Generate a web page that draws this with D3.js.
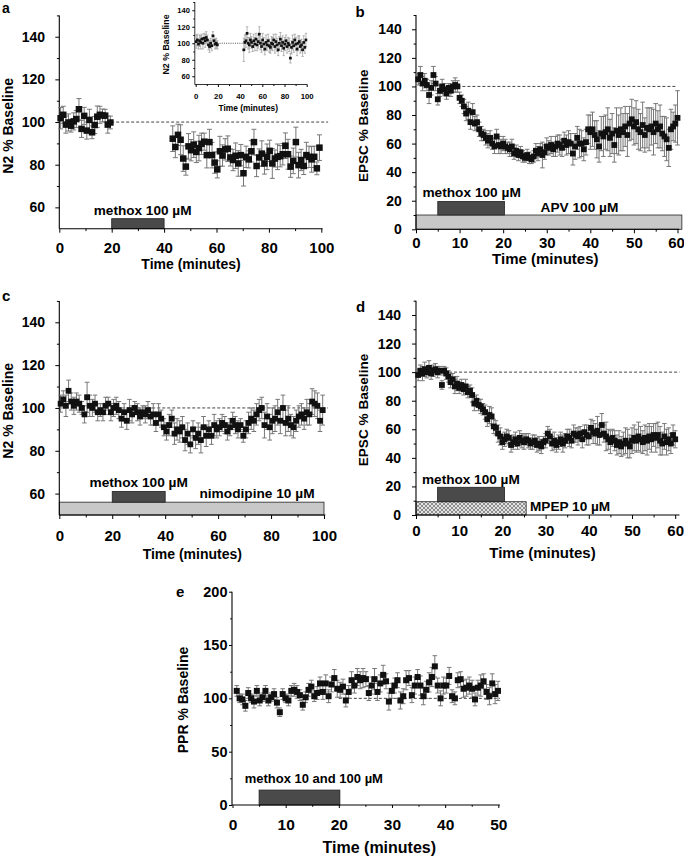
<!DOCTYPE html>
<html>
<head>
<meta charset="utf-8">
<script src="https://cdn.jsdelivr.net/npm/d3@7"></script>
<style>
  body { margin: 0; background: #fff; }
  svg { font-family: "Liberation Sans", Arial, sans-serif; font-weight: bold; }
</style>
</head>
<body>
<svg id="fig" width="684" height="856"></svg>
<script>
// ---------- data ----------

// panel a: N2 % baseline, two recording segments, 1 min sampling
const aSeg1Start = 0.5, aSeg2Start = 43.3, aStep = 1.0;
const aSeg1 = [101.8,103.4,98.8,99.8,98.3,100.3,101.4,106,96.8,102.9,96,101,95.2,98.6,102.5,103.4,103.1,103,98.8,99.8];
const aSeg1Err = [5,4,4,4,3,4,4,5,4,4,4,5,3,4,5,4,3,3,4,3];
const aSeg2 = [92.2,88.3,94,91.7,82.9,79.1,88.6,86.8,89.4,86,87.8,89.8,90.8,84.5,90.6,84.5,81,77.8,86.3,84.3,
  87.2,87.5,83.4,82.2,84.2,80.6,84.5,76,83.7,82.5,86.3,90.6,79.4,83.4,85.2,80.6,83.7,86.5,80.6,82.9,
  83.7,84,84.9,88.9,84.9,79.1,81.8,90.6,79.8,82.2,79.4,84.5,83.7,82.5,83.7,78.3,88];
const aSeg2Err = [6,5,5,7,6,4,6,5,6,5,6,5,4,6,6,6,5,4,7,5,5,6,4,5,6,6,5,6,5,4,5,6,5,4,6,5,6,5,7,4,
  6,5,5,6,7,5,6,7,6,5,4,6,5,6,5,3,6];

// panel a inset: control recording
const insSeg1 = [102,104,99,103,101,105,100,106,103,107,104,98,96,100,97,109,103,99,100,98];
const insSeg1Err = [8,7,6,7,8,6,7,6,8,7,6,6,7,6,6,5,6,6,6,5];
const insSeg2 = [92,101,103,112,100,98,104,101,96,103,99,105,98,102,111,100,96,104,99,93,
  101,98,103,97,95,100,99,104,96,102,98,92,100,105,97,101,94,99,103,96,
  100,98,82,95,101,97,104,99,93,100,102,96,98,92,101,95,104];
const insSeg2Err = [14,9,8,8,7,9,8,7,6,8,8,7,7,8,9,8,7,8,8,7,9,7,8,8,7,8,8,7,8,9,
  8,7,8,8,7,8,9,8,7,8,7,8,6,8,9,8,7,8,8,9,7,8,7,8,8,7,8];

// panel b: EPSC % baseline with APV, 0.5 min sampling
const bStart = 0.5, bStep = 0.5;
const bVals = [105,108,102,104,101,94,99,108,102,91,97,100,98,95,99,97,100,101,100,92,
  90,86,81,83,75,82,74,75,70,67,66,64,62,64,60,58,65,59,58,60,
  58,57,56,58,53,55,52,54,51,50,52,50,49,51,55,53,56,52,54,58,
  57,59,56,58,60,59,57,62,59,61,60,53,58,64,60,60,56,61,70,68,
  70,66,63,58,67,65,68,70,64,67,59,69,66,70,68,72,66,74,77,72,
  75,70,68,73,66,71,70,72,68,74,70,72,67,65,63,57,70,72,74,78];
const bErr = [4,6,5,5,4,6,5,6,5,4,4,5,4,4,3,4,4,5,4,4,
  4,5,5,6,5,6,5,5,5,5,4,5,5,5,4,5,5,6,5,5,
  5,4,5,5,4,4,4,4,4,3,4,4,3,4,5,5,4,9,5,6,
  5,6,5,7,6,7,6,6,7,8,7,8,9,8,10,9,8,9,10,12,
  12,10,13,11,12,14,12,15,13,14,12,16,14,15,13,14,15,12,14,13,
  15,14,13,16,12,14,15,13,16,14,13,15,12,14,15,13,14,10,13,19];

// panel c: N2 % baseline with nimodipine, 1 min sampling
const cStart = 0.5, cStep = 1.0;
const cVals = [102,104,101,108,103,101,103,102,100,97,
  105,101,100,102,98,99,98,101,102,98,
  100,101,99,95,98,94,99,97,100,98,
  96,98,97,99,96,97,93,97,95,91,
  89,92,95,88,90,89,91,85,88,83,
  90,86,88,85,91,87,90,87,92,90,
  91,93,92,89,91,94,92,90,92,87,
  90,93,95,94,97,99,100,92,96,91,
  94,95,98,94,100,93,95,92,91,94,
  96,97,95,98,97,103,102,101,94,99];
const cErr = [4,4,5,5,4,4,4,4,3,4,7,5,4,4,4,3,4,4,3,4,4,4,4,4,4,4,5,4,3,4,
  4,3,4,4,4,5,4,5,4,4,4,5,4,5,5,5,5,5,5,4,4,5,5,6,5,5,4,4,5,4,
  4,4,4,4,4,4,4,4,3,3,4,5,5,5,5,5,5,6,6,6,6,6,6,6,6,6,6,5,5,5,
  5,5,5,6,5,6,6,6,5,7];

// panel d: EPSC % baseline with MPEP, 0.5 min sampling
const dStart = 0.5, dStep = 0.5;
const dVals = [98,101,99,102,100,103,99,101,102,100,101,91,101,99,97,93,95,90,92,89,
  91,88,90,86,87,84,78,80,77,76,74,72,67,70,69,62,61,57,55,51,
  53,55,54,49,51,53,50,54,52,51,53,52,50,51,52,49,50,48,51,52,
  57,55,50,52,49,51,53,50,52,55,54,52,57,56,55,57,53,58,56,55,
  61,58,57,59,56,63,57,55,53,51,54,52,49,51,48,50,52,50,48,52,
  54,52,55,53,51,54,52,55,53,56,54,56,52,50,55,51,53,50,56,53];
const dErr = [4,4,5,5,4,5,4,4,4,4,3,3,3,4,4,4,4,5,5,4,
  4,4,5,4,4,5,5,4,4,5,4,5,5,6,6,5,5,6,6,5,
  5,5,5,5,5,5,4,5,5,5,4,5,4,5,4,5,5,5,4,5,
  5,5,5,6,5,5,5,6,5,5,6,5,6,5,6,5,6,5,7,6,
  6,8,7,10,7,8,6,10,7,8,6,7,7,8,7,8,9,10,8,9,
  9,8,10,9,8,9,10,9,9,8,10,9,10,8,9,9,8,7,7,6];

// panel e: PPR % baseline
const eStart = 0.8, eStep = 0.54;
const eVals = [107,100,99,93,105,100,97,107,98,101,107,98,101,104,96,87,104,100,98,107,
  108,106,103,94,101,108,111,102,105,114,106,114,102,113,119,109,108,111,98,106,
  117,112,120,117,119,118,105,112,118,106,114,122,116,97,107,112,117,98,102,117,
  119,103,112,120,112,102,108,115,120,130,112,100,112,112,121,102,100,117,118,109,
  110,112,109,99,110,112,116,106,102,114,104,107];
const eErr = [5,4,5,5,5,4,6,5,5,4,5,5,4,5,5,4,5,4,5,5,6,6,5,5,5,6,6,5,6,6,
  7,8,6,7,8,8,7,7,6,6,8,7,8,8,9,7,7,8,10,8,8,9,7,8,7,7,7,8,7,9,
  7,7,8,7,9,8,8,9,9,10,7,7,8,7,8,6,6,7,7,8,8,8,8,6,7,10,7,7,8,9,9,9];

// drug application bars: minutes and % levels
const aBars = [{ kind: 'methox', from: 20, to: 40, lo: 50, hi: 54.7 }];
const bBars = [{ kind: 'bath', from: 0, to: 61, lo: 0, hi: 10 },
               { kind: 'methox', from: 5, to: 20.3, lo: 10, hi: 19.5 }];
const cBars = [{ kind: 'bath', from: 0, to: 100, lo: 50, hi: 56 },
               { kind: 'methox', from: 20, to: 40, lo: 56, hi: 61 }];
const dBars = [{ kind: 'hatch', from: 0, to: 25.5, lo: 0, hi: 9.3 },
               { kind: 'methox', from: 5, to: 20.5, lo: 9.3, hi: 19.4 }];
const eBars = [{ kind: 'methox', from: 5, to: 20.2, lo: 0, hi: 14 }];

// ---------- drawing ----------
const svg = d3.select('#fig');
const defs = svg.append('defs');
const pat = defs.append('pattern').attr('id', 'xhatch')
  .attr('width', 4).attr('height', 4).attr('patternUnits', 'userSpaceOnUse');
pat.append('rect').attr('width', 4).attr('height', 4).attr('fill', '#e2e2e2');
pat.append('path').attr('d', 'M0,0L4,4M4,0L0,4M-1,3L1,5M3,-1L5,1')
  .attr('stroke', '#555').attr('stroke-width', 0.6);

const barFill = { methox: '#4a4a4a', bath: '#c8c8c8', hatch: 'url(#xhatch)' };

function seg(t0, dt, vals, errs) {
  return vals.map((v, i) => ({ t: t0 + i * dt, v: v, e: errs[i] || 0 }));
}

function drawPanel(p) {
  const g = svg.append('g');
  const x = d3.scaleLinear().domain(p.xDomain).range(p.xRange);
  const y = d3.scaleLinear().domain(p.yDomain).range(p.yRange);
  const axX = p.yAxisX, axY = p.yRange[0];

  // treatment bars
  g.selectAll('rect.bar').data(p.bars || []).enter().append('rect')
    .attr('x', d => x(d.from))
    .attr('width', d => x(d.to) - x(d.from))
    .attr('y', d => y(d.hi))
    .attr('height', d => y(d.lo) - y(d.hi))
    .attr('fill', d => barFill[d.kind])
    .attr('stroke', '#222').attr('stroke-width', 0.8);

  (p.labels || []).forEach(l => {
    g.append('text').attr('x', x(l.t)).attr('y', y(l.v))
      .attr('text-anchor', l.anchor || 'middle')
      .attr('font-size', p.labFs).text(l.text);
  });

  // baseline reference
  g.append('line')
    .attr('x1', x(p.dash[0])).attr('x2', x(p.dash[1]))
    .attr('y1', y(100)).attr('y2', y(100))
    .attr('stroke', '#444').attr('stroke-width', p.dashW || 1)
    .attr('stroke-dasharray', p.dashArray || '3,2');

  // axes
  const xa = g.append('g').attr('transform', `translate(0,${axY})`)
    .call(d3.axisBottom(x).tickValues(p.xTicks).tickSize(p.tick).tickSizeOuter(0));
  xa.select('.domain').remove();
  xa.attr('font-family', null).attr('font-size', p.xTickFs);
  xa.selectAll('text').attr('y', p.xLabOff).attr('dy', 0);
  if (p.lastTickDx) xa.selectAll('text').filter(d => d === p.xTicks[p.xTicks.length - 1]).attr('dx', p.lastTickDx);
  const xm = g.append('g').attr('transform', `translate(0,${axY})`)
    .call(d3.axisBottom(x).tickValues(p.xMinor).tickSize(p.tick * 0.6).tickFormat(''));
  xm.select('.domain').remove();

  const ya = g.append('g').attr('transform', `translate(${axX},0)`)
    .call(d3.axisLeft(y).tickValues(p.yTicks).tickSize(p.tick).tickSizeOuter(0));
  ya.select('.domain').remove();
  ya.attr('font-family', null).attr('font-size', p.yTickFs);
  ya.selectAll('text').attr('x', -p.yLabOff);
  const ym = g.append('g').attr('transform', `translate(${axX},0)`)
    .call(d3.axisLeft(y).tickValues(p.yMinor).tickSize(p.tick * 0.6).tickFormat(''));
  ym.select('.domain').remove();

  g.append('line').attr('x1', axX).attr('x2', x(p.xEnd))
    .attr('y1', axY).attr('y2', axY).attr('stroke', '#000').attr('stroke-width', p.axisW || 1.1);
  g.append('line').attr('x1', axX).attr('x2', axX)
    .attr('y1', y(p.yDomain[0])).attr('y2', y(p.yDomain[1]))
    .attr('stroke', '#000').attr('stroke-width', p.axisW || 1.1);

  // titles
  g.append('text').attr('x', p.xTitle[0]).attr('y', p.xTitle[1])
    .attr('text-anchor', 'middle').attr('font-size', p.xTitleFs).text('Time (minutes)');
  g.append('text').attr('transform', `translate(${p.yTitle[0]},${p.yTitle[1]}) rotate(-90)`)
    .attr('text-anchor', 'middle').attr('font-size', p.yTitleFs).text(p.yLabel);
  if (p.letter) {
    g.append('text').attr('x', p.letter[1]).attr('y', p.letter[2])
      .attr('font-size', p.letter[3] || 15).text(p.letter[0]);
  }

  // data: error bars below, squares on top
  const pts = [].concat(...p.series);
  const cw = p.cap;
  const eb = g.append('g').attr('stroke', p.errColor || '#777').attr('stroke-width', p.errW || 1);
  pts.forEach(d => {
    const xx = x(d.t), y1 = y(d.v + d.e), y2 = y(d.v - d.e);
    eb.append('line').attr('x1', xx).attr('x2', xx).attr('y1', y1).attr('y2', y2);
    eb.append('line').attr('x1', xx - cw).attr('x2', xx + cw).attr('y1', y1).attr('y2', y1);
    eb.append('line').attr('x1', xx - cw).attr('x2', xx + cw).attr('y1', y2).attr('y2', y2);
  });
  g.append('g').selectAll('rect').data(pts).enter().append('rect')
    .attr('x', d => x(d.t) - p.sq / 2).attr('y', d => y(d.v) - p.sq / 2)
    .attr('width', p.sq).attr('height', p.sq).attr('fill', '#111');
}

const ticks100 = [0, 20, 40, 60, 80, 100], minor100 = [10, 30, 50, 70, 90];
const ticks60 = [0, 10, 20, 30, 40, 50, 60], minor60 = [5, 15, 25, 35, 45, 55];

// panel a
drawPanel({
  xDomain: [0, 100], xRange: [59.3, 321.3], yDomain: [50, 150], yRange: [228.7, 15.4],
  yAxisX: 59.3, xEnd: 100.5, tick: 4,
  xTicks: ticks100, xMinor: minor100, yTicks: [60, 80, 100, 120, 140], yMinor: [70, 90, 110, 130, 150],
  xTickFs: 15, yTickFs: 14, xLabOff: 24.5, yLabOff: 14.3,
  xTitle: [191, 269], xTitleFs: 14, yTitle: [13.3, 125.8], yTitleFs: 14, yLabel: 'N2 % Baseline',
  letter: ['a', 2, 12.8, 14], labFs: 13.6,
  bars: aBars, labels: [{ text: 'methox 100 \u00B5M', t: 31.8, v: 56.4 }],
  dash: [19.8, 102.6], sq: 6.5, cap: 2.5,
  series: [seg(aSeg1Start, aStep, aSeg1, aSeg1Err), seg(aSeg2Start, aStep, aSeg2, aSeg2Err)]
});

// inset of panel a
drawPanel({
  xDomain: [0, 100], xRange: [195.7, 306.7], yDomain: [50, 150], yRange: [84.5, 2],
  yAxisX: 194.8, xEnd: 100.5, tick: 2.5, axisW: 0.8,
  xTicks: ticks100, xMinor: minor100, yTicks: [60, 80, 100, 120, 140], yMinor: [70, 90, 110, 130, 150],
  xTickFs: 7.8, yTickFs: 7.5, xLabOff: 14.5, yLabOff: 5,
  xTitle: [248.3, 110.5], xTitleFs: 8.4, yTitle: [168.5, 44.5], yTitleFs: 8.8, yLabel: 'N2 % Baseline',
  dash: [19.5, 43], dashArray: '1,1.2', dashW: 0.9, sq: 2.7, cap: 1.2, errColor: '#999', errW: 0.7,
  series: [seg(aSeg1Start, aStep, insSeg1, insSeg1Err), seg(aSeg2Start, aStep, insSeg2, insSeg2Err)]
});

// panel b
drawPanel({
  xDomain: [0, 60], xRange: [416, 677.5], yDomain: [0, 150], yRange: [229.3, 15],
  yAxisX: 416, xEnd: 60.4, tick: 4, lastTickDx: -1.5,
  xTicks: ticks60, xMinor: minor60, yTicks: [0, 20, 40, 60, 80, 100, 120, 140], yMinor: [10, 30, 50, 70, 90, 110, 130, 150],
  xTickFs: 15, yTickFs: 14, xLabOff: 18.5, yLabOff: 14.3,
  xTitle: [545.3, 264], xTitleFs: 15, yTitle: [368, 125.8], yTitleFs: 13.6, yLabel: 'EPSC % Baseline',
  letter: ['b', 355.5, 16.5], labFs: 13.7,
  bars: bBars,
  labels: [{ text: 'methox 100 \u00B5M', t: 12.76, v: 22.8 }, { text: 'APV 100 \u00B5M', t: 37.5, v: 12.3 }],
  dash: [9.5, 59.5], sq: 5.8, cap: 2.3,
  series: [seg(bStart, bStep, bVals, bErr)]
});

// panel c
drawPanel({
  xDomain: [0, 100], xRange: [59.3, 324], yDomain: [50, 150], yRange: [515, 300.9],
  yAxisX: 59.3, xEnd: 100.5, tick: 4,
  xTicks: ticks100, xMinor: minor100, yTicks: [60, 80, 100, 120, 140], yMinor: [70, 90, 110, 130, 150],
  xTickFs: 15, yTickFs: 14, xLabOff: 25.5, yLabOff: 14.3,
  xTitle: [192.3, 558.5], xTitleFs: 14, yTitle: [13.3, 410.8], yTitleFs: 14, yLabel: 'N2 % Baseline',
  letter: ['c', 2, 300.5], labFs: 13.7,
  bars: cBars,
  labels: [{ text: 'methox 100 \u00B5M', t: 30.0, v: 62.9 }, { text: 'nimodipine 10 \u00B5M', t: 74.7, v: 57.9 }],
  dash: [20, 101.5], sq: 5.8, cap: 2.3,
  series: [seg(cStart, cStep, cVals, cErr)]
});

// panel d
drawPanel({
  xDomain: [0, 60], xRange: [416, 675.2], yDomain: [0, 150], yRange: [515, 300.7],
  yAxisX: 416, xEnd: 61, tick: 4,
  xTicks: ticks60, xMinor: minor60, yTicks: [0, 20, 40, 60, 80, 100, 120, 140], yMinor: [10, 30, 50, 70, 90, 110, 130, 150],
  xTickFs: 15, yTickFs: 14, xLabOff: 21, yLabOff: 15,
  xTitle: [542.5, 558], xTitleFs: 15, yTitle: [368, 410], yTitleFs: 13.6, yLabel: 'EPSC % Baseline',
  letter: ['d', 356, 312], labFs: 13.6,
  bars: dBars,
  labels: [{ text: 'methox 100 \u00B5M', t: 12.7, v: 21.7 }, { text: 'MPEP 10 \u00B5M', t: 26.4, v: 2.8, anchor: 'start' }],
  dash: [6.5, 61], sq: 5.8, cap: 2.3,
  series: [seg(dStart, dStep, dVals, dErr)]
});

// panel e
drawPanel({
  xDomain: [0, 50], xRange: [232.5, 498.3], yDomain: [0, 200], yRange: [805, 591.7],
  yAxisX: 232, xEnd: 50.3, tick: 3,
  xTicks: [0, 10, 20, 30, 40, 50], xMinor: [5, 15, 25, 35, 45], yTicks: [0, 50, 100, 150, 200], yMinor: [25, 75, 125, 175],
  xTickFs: 15.5, yTickFs: 14.5, xLabOff: 24.5, yLabOff: 4.5,
  xTitle: [379.3, 852.5], xTitleFs: 16, yTitle: [188, 700], yTitleFs: 14, yLabel: 'PPR % Baseline',
  letter: ['e', 176, 597], labFs: 13,
  bars: eBars, labels: [{ text: 'methox 10 and 100 \u00B5M', t: 15.3, v: 20.3 }],
  dash: [20, 50.3], sq: 6, cap: 2.3,
  series: [seg(eStart, eStep, eVals, eErr)]
});
</script>
</body>
</html>
